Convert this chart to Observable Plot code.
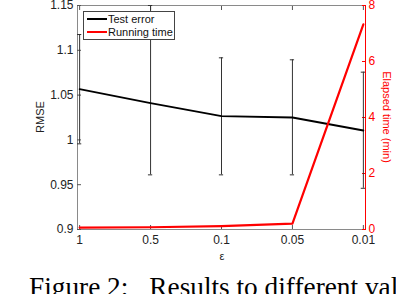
<!DOCTYPE html>
<html>
<head>
<meta charset="utf-8">
<script src="https://cdn.jsdelivr.net/npm/d3@7"></script>
<script src="https://cdn.jsdelivr.net/npm/@observablehq/plot@0.6"></script>
<style>
  html, body { margin: 0; padding: 0; background: #fff; }
  #wrap { position: relative; width: 396px; height: 294px; overflow: hidden; font-family: "Liberation Sans", Arial, sans-serif; }
  #wrap svg { position: absolute; left: 0; top: 0; }
  .lab { position: absolute; font-size: 11px; white-space: nowrap; line-height: 1; }
  #legend { position: absolute; left: 83px; top: 11px; width: 90px; height: 27px; border: 1px solid #444; background: #fff; font-size: 11px; }
  .row { position: absolute; left: 3px; height: 12px; line-height: 12px; white-space: nowrap; color: #111; }
  .row .sw { display: inline-block; width: 20px; height: 2px; vertical-align: middle; margin-right: 1px; position: relative; top: -1px; }
  #caption { position: absolute; left: 29px; top: 274px; font-family: "Liberation Serif", "Times New Roman", serif; font-size: 27.3px; line-height: 27px; white-space: nowrap; color: #000; }
  #caption .gap { display: inline-block; width: 21px; }
</style>
</head>
<body>
<div id="wrap"></div>
<script>
// ---- data ----
const epsLabels = ["1", "0.5", "0.1", "0.05", "0.01"];
const rmse      = [1.0566, 1.041, 1.0265, 1.025, 1.0105];
const errLow    = [0.9956, 0.961, 0.961, 0.961, 0.946];
const errHigh   = [1.1176, 1.15, 1.0916, 1.0894, 1.0756];
const timeMin   = [0.07, 0.08, 0.12, 0.21, 7.33];
const rmseTicks = [0.9, 0.95, 1, 1.05, 1.1, 1.15];
const rmseTickLabels = ["0.9", "0.95", "1", "1.05", "1.1", "1.15"];
const timeTicks = [0, 2, 4, 6, 8];
const legendLabels = ["Test error", "Running time"];
const seriesColors = ["#000000", "#ff0000"];
const captionLabel = "Figure 2:";
const captionText = "Results to different values";

// ---- scales ----
const rmseDomain = [0.9, 1.15];
const timeDomain = [0, 8];
const xDomain = [-0.03, 4.03];
const toY = t => rmseDomain[0] + (t - timeDomain[0]) / (timeDomain[1] - timeDomain[0]) * (rmseDomain[1] - rmseDomain[0]);
const fromY = y => (y - rmseDomain[0]) / (rmseDomain[1] - rmseDomain[0]) * (timeDomain[1] - timeDomain[0]) + timeDomain[0];
const idx = epsLabels.map((_, i) => i);
const capHalf = 0.03;

const chart = Plot.plot({
  width: 396,
  height: 265,
  marginLeft: 77,
  marginRight: 31,
  marginTop: 5,
  marginBottom: 36,
  style: { fontFamily: "Liberation Sans, Arial, sans-serif", fontSize: "12px", background: "transparent" },
  x: { type: "linear", domain: xDomain, axis: null },
  y: { type: "linear", domain: rmseDomain, axis: null },
  marks: [
    Plot.frame({ stroke: "#8a8a8a" }),
    Plot.axisY(rmseTicks, { anchor: "left", tickSize: -4, tickPadding: 8, stroke: "#555", fill: "#222", fontSize: 12,
      tickFormat: d => rmseTickLabels[rmseTicks.indexOf(d)], label: null }),
    Plot.axisX(idx, { anchor: "bottom", tickSize: -4, tickPadding: 10, stroke: "#555", fill: "#222", fontSize: 12,
      tickFormat: i => epsLabels[i], label: null }),
    Plot.axisX(idx, { anchor: "top", tickSize: -4, stroke: "#555", tickFormat: () => "", label: null }),
    Plot.ruleX([xDomain[1]], { stroke: "#ff0000" }),
    Plot.axisY(timeTicks.map(toY), { anchor: "right", tickSize: -4, tickPadding: 7, stroke: "#ff0000", fill: "#ff0000", fontSize: 12,
      tickFormat: d => String(Math.round(fromY(d))), label: null }),
    Plot.ruleX(idx, { x: i => i, y1: i => errLow[i], y2: i => errHigh[i], stroke: "#333", strokeWidth: 1 }),
    Plot.ruleY(idx, { y: i => errLow[i], x1: i => i - capHalf, x2: i => i + capHalf, stroke: "#333", strokeWidth: 1 }),
    Plot.ruleY(idx, { y: i => errHigh[i], x1: i => i - capHalf, x2: i => i + capHalf, stroke: "#333", strokeWidth: 1 }),
    Plot.line(idx, { x: i => i, y: i => rmse[i], stroke: seriesColors[0], strokeWidth: 1.8 }),
    Plot.line(idx, { x: i => i, y: i => toY(timeMin[i]), stroke: seriesColors[1], strokeWidth: 2.2 })
  ]
});

const wrap = document.getElementById("wrap");
wrap.appendChild(chart);

function addLabel(text, css) {
  const d = document.createElement("div");
  d.className = "lab";
  d.textContent = text;
  Object.assign(d.style, css);
  wrap.appendChild(d);
  return d;
}
addLabel("RMSE", { left: "40px", top: "117px", transform: "translate(-50%,-50%) rotate(-90deg)", color: "#222" });
addLabel("Elapsed time (min)", { left: "386px", top: "117px", transform: "translate(-50%,-50%) rotate(90deg)", color: "#ff0000" });
addLabel("\u03b5", { left: "222px", top: "256px", transform: "translate(-50%,-50%)", color: "#222" });

const legend = document.createElement("div");
legend.id = "legend";
legendLabels.forEach((t, i) => {
  const r = document.createElement("div");
  r.className = "row";
  r.style.top = (1 + i * 13) + "px";
  const sw = document.createElement("span");
  sw.className = "sw";
  sw.style.background = seriesColors[i];
  r.appendChild(sw);
  r.appendChild(document.createTextNode(t));
  legend.appendChild(r);
});
wrap.appendChild(legend);

const cap = document.createElement("div");
cap.id = "caption";
const s1 = document.createElement("span"); s1.textContent = captionLabel;
const g = document.createElement("span"); g.className = "gap";
const s2 = document.createElement("span"); s2.textContent = captionText;
cap.append(s1, g, s2);
wrap.appendChild(cap);
</script>
</body>
</html>
